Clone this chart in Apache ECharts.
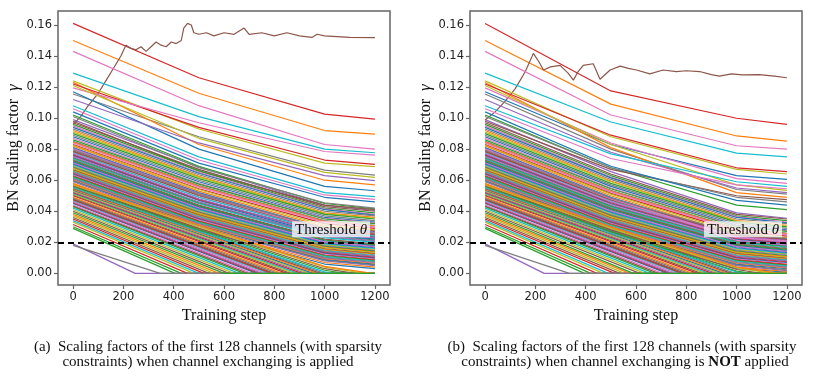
<!DOCTYPE html>
<html>
<head>
<meta charset="utf-8">
<script src="https://cdn.jsdelivr.net/npm/echarts@6.0.0/dist/echarts.min.js"></script>
<style>
  html, body { margin: 0; padding: 0; background: #fff; }
  #main { width: 830px; height: 378px; }
</style>
</head>
<body>
<div id="main"></div>
<script>
// tick labels
const xTicks = [0, 200, 400, 600, 800, 1000, 1200]
const yTicks = [0, 0.02, 0.04, 0.06, 0.08, 0.10, 0.12, 0.14, 0.16]
const threshold = 0.02

// one row per channel (series index order):
// [gamma at step 0, at 500, at 1000, at 1200, step where it reaches 0]
// row 5 is the brown channel, given separately with more points
const channelsA = [
  [.057, .028, .006, .003, null], [.150, .116, .092, .0897, null], [.029, null, 0, 0, 405], [.161, .126, .1026, .0994, null],
  [.099, .0685, .044, .0405, null], null, [.143, .108, .083, .080, null], [.1155, .088, .0665, .0633, null],
  [.124, .093, .071, .0687, null], [.129, .101, .080, .0777, null], [.117, .080, .056, .0532, null], [.123, .083, .060, .057, null],
  [.102, .069, .045, .0415, null], [.122, .094, .073, .0702, null], [.112, .084, .063, .0597, null], [.098, .066, .044, .041, null],
  [.1195, .097, .0785, .0762, null], [.101, .068, .0455, .042, null], [.121, .087, .065, .0618, null], [.108, .075, .052, .0494, null],
  [.104, .071, .049, .0461, null], [.058, .029, .007, .004, null], [.030, null, 0, 0, 430], [.0315, null, 0, 0, 455],
  [.059, .030, .008, .005, null], [.097, .067, .043, .040, null], [.106, .073, .0505, .0477, null], [.0595, .031, .0085, .0055, null],
  [.033, null, 0, 0, 480], [.034, null, 0, 0, 500], [.060, .031, .009, .006, null], [.0605, .0315, .0095, .0065, null],
  [.096, .066, .042, .039, null], [.035, null, 0, 0, 520], [.061, .032, .010, .007, null], [.036, null, 0, 0, 540],
  [.095, .065, .0415, .038, null], [.0615, .0325, .0105, .0075, null], [.037, null, 0, 0, 560], [.062, .033, .011, .008, null],
  [.094, .0645, .041, .0375, null], [.038, null, 0, 0, 580], [.0625, .0335, .0115, .0085, null], [.063, .034, .012, .009, null],
  [.019, null, 0, 0, 247], [.040, null, 0, 0, 620], [.0635, .0345, .0125, .0095, null], [.093, .0635, .040, .037, null],
  [.041, null, 0, 0, 640], [.042, null, 0, 0, 660], [.064, .035, .013, .010, null], [.092, .0625, .039, .036, null],
  [.043, null, 0, 0, 680], [.0645, .0355, .0135, .0105, null], [.065, .036, .014, .011, null], [.0435, null, 0, 0, 695],
  [.044, null, 0, 0, 710], [.0655, .0365, .0145, .0115, null], [.091, .062, .0385, .0355, null], [.066, .037, .015, .012, null],
  [.045, null, 0, 0, 730], [.0665, .0375, .0155, .0125, null], [.090, .061, .038, .035, null], [.0455, null, 0, 0, 740],
  [.046, null, 0, 0, 750], [.067, .038, .016, .013, null], [.0465, null, 0, 0, 765], [.089, .060, .037, .034, null],
  [.0675, .0385, .0165, .0135, null], [.047, null, 0, 0, 780], [.088, .059, .036, .033, null], [.068, .039, .017, .014, null],
  [.0685, .0395, .0175, .0145, null], [.0475, null, 0, 0, 790], [.069, .040, .018, .015, null], [.048, null, 0, 0, 800],
  [.087, .058, .0355, .0325, null], [.0485, null, 0, 0, 815], [.0695, .0405, .0185, .0155, null], [.070, .041, .019, .016, null],
  [.0705, .0415, .0195, .0165, null], [.049, null, 0, 0, 830], [.086, .0575, .035, .032, null], [.050, null, 0, 0, 850],
  [.071, .042, .020, .017, null], [.0505, null, 0, 0, 865], [.0715, .0425, .0205, .0175, null], [.085, .0565, .034, .031, null],
  [.051, null, 0, 0, 880], [.0515, null, 0, 0, 895], [.072, .043, .021, .018, null], [.0845, .056, .0335, .0305, null],
  [.0725, .0435, .0215, .0185, null], [.052, null, 0, 0, 910], [.0525, null, 0, 0, 925], [.073, .044, .022, .019, null],
  [.084, .0555, .033, .030, null], [.0735, .045, .0235, .0205, null], [.053, null, 0, 0, 940], [.074, .045, .023, .020, null],
  [.0535, null, 0, 0, 955], [.054, null, 0, 0, 970], [.0745, .0455, .0245, .0215, null], [.083, .0545, .032, .029, null],
  [.075, .046, .024, .021, null], [.0545, null, 0, 0, 985], [.0755, .0475, .0255, .0225, null], [.055, null, 0, 0, 1000],
  [.0825, .054, .031, .028, null], [.0555, .027, .001, 0, 1040], [.076, .047, .025, .022, null], [.082, .053, .030, .0275, null],
  [.056, .028, .002, 0, 1080], [.0765, .0475, .0265, .0235, null], [.077, .048, .026, .023, null], [.0565, .029, .003, 0, 1120],
  [.0775, .049, .0275, .0245, null], [.018, null, 0, 0, 346], [.057, .030, .004, 0, 1160], [.078, .049, .027, .024, null],
  [.081, .052, .029, .027, null], [.0575, .031, .0045, 0, 1190], [.039, null, 0, 0, 600], [.0785, .0505, .0285, .0255, null],
  [.0805, .0515, .0285, .0265, null], [.079, .050, .028, .025, null], [.080, .051, .028, .026, null], [.0795, .051, .029, .026, null]
]

const channelsB = [
  [.057, .026, .003, .0008, null], [.150, .109, .0885, .0852, null], [.029, null, 0, 0, 395], [.161, .1175, .0999, .096, null],
  [.099, .0655, .039, .0355, null], null, [.143, .102, .0822, .080, null], [.1155, .080, .054, .051, null],
  [.124, .088, .067, .064, null], [.129, .0975, .0775, .075, null], [.117, .083, .063, .0605, null], [.123, .081, .052, .049, null],
  [.102, .068, .044, .041, null], [.122, .089, .068, .0655, null], [.112, .078, .055, .052, null], [.098, .067, .050, .0475, null],
  [.1195, .084, .061, .058, null], [.101, .068, .049, .046, null], [.121, .083, .057, .0535, null], [.108, .077, .059, .056, null],
  [.104, .069, .047, .044, null], [.058, .027, .004, .0012, null], [.030, null, 0, 0, 420], [.0315, null, 0, 0, 445],
  [.059, .028, .005, .0018, null], [.097, .064, .038, .035, null], [.106, .074, .057, .0545, null], [.0595, .0285, .0055, .0022, null],
  [.033, null, 0, 0, 470], [.034, null, 0, 0, 490], [.060, .029, .006, .003, null], [.0605, .0295, .0065, .0035, null],
  [.096, .063, .037, .034, null], [.035, null, 0, 0, 515], [.061, .030, .007, .004, null], [.036, null, 0, 0, 535],
  [.095, .062, .0365, .033, null], [.0615, .0305, .0075, .0045, null], [.037, null, 0, 0, 555], [.062, .031, .008, .005, null],
  [.094, .0615, .036, .0325, null], [.038, null, 0, 0, 575], [.0625, .0315, .0085, .0055, null], [.063, .032, .009, .006, null],
  [.019, null, 0, 0, 235], [.040, null, 0, 0, 615], [.0635, .0325, .0095, .0065, null], [.093, .0605, .035, .032, null],
  [.041, null, 0, 0, 635], [.042, null, 0, 0, 655], [.064, .033, .010, .007, null], [.092, .0595, .034, .031, null],
  [.043, null, 0, 0, 675], [.0645, .0335, .0105, .0075, null], [.065, .034, .011, .008, null], [.0435, null, 0, 0, 690],
  [.044, null, 0, 0, 705], [.0655, .0345, .0115, .0085, null], [.091, .059, .0335, .0305, null], [.066, .035, .012, .009, null],
  [.045, null, 0, 0, 725], [.0665, .0355, .0125, .0095, null], [.090, .058, .033, .030, null], [.0455, null, 0, 0, 735],
  [.046, null, 0, 0, 745], [.067, .036, .013, .010, null], [.0465, null, 0, 0, 760], [.089, .057, .032, .029, null],
  [.0675, .0365, .0135, .0105, null], [.047, null, 0, 0, 775], [.088, .056, .031, .028, null], [.068, .037, .014, .011, null],
  [.0685, .0375, .0145, .0115, null], [.0475, null, 0, 0, 785], [.069, .038, .015, .012, null], [.048, null, 0, 0, 795],
  [.087, .055, .0305, .0275, null], [.0485, null, 0, 0, 810], [.0695, .0385, .0155, .0125, null], [.070, .039, .016, .013, null],
  [.0705, .0395, .0165, .0135, null], [.049, null, 0, 0, 825], [.086, .0545, .030, .027, null], [.050, null, 0, 0, 845],
  [.071, .040, .017, .014, null], [.0505, null, 0, 0, 860], [.0715, .0405, .0175, .0145, null], [.085, .0535, .029, .026, null],
  [.051, null, 0, 0, 875], [.0515, null, 0, 0, 890], [.072, .041, .018, .015, null], [.0845, .053, .0285, .0255, null],
  [.0725, .0415, .0185, .0155, null], [.052, null, 0, 0, 905], [.0525, null, 0, 0, 920], [.073, .042, .019, .016, null],
  [.084, .0525, .028, .025, null], [.0735, .0425, .0195, .0165, null], [.053, null, 0, 0, 935], [.074, .043, .020, .017, null],
  [.0535, null, 0, 0, 950], [.054, null, 0, 0, 965], [.0745, .0435, .0205, .0175, null], [.083, .0515, .027, .024, null],
  [.075, .044, .021, .018, null], [.0545, null, 0, 0, 980], [.0755, .0445, .0215, .0185, null], [.055, null, 0, 0, 995],
  [.0825, .051, .026, .023, null], [.0555, .026, .001, 0, 1030], [.076, .045, .022, .019, null], [.082, .050, .025, .0225, null],
  [.056, .027, .0015, 0, 1060], [.0765, .0455, .0225, .0195, null], [.077, .046, .023, .020, null], [.0565, .028, .0025, 0, 1100],
  [.0775, .0465, .0235, .0205, null], [.018, null, 0, 0, 335], [.057, .029, .0035, 0, 1140], [.078, .047, .024, .021, null],
  [.081, .049, .024, .022, null], [.0575, .030, .004, 0, 1170], [.039, null, 0, 0, 590], [.0785, .0475, .0245, .0215, null],
  [.0805, .0485, .0235, .0215, null], [.079, .048, .025, .022, null], [.080, .048, .023, .021, null], [.0795, .0485, .0255, .0225, null]
]

// the brown channel that grows instead of shrinking
const brownStepsA = [0, 30, 60, 100, 130, 160, 190, 210, 230, 250, 270, 290, 310, 330, 350, 370, 390, 410, 430, 440, 455, 470, 480,
  500, 530, 560, 600, 640, 680, 700, 750, 800, 850, 900, 950, 970, 1000, 1100, 1200]
const brownA = [.096, .101, .108, .116, .124, .132, .140, .147, .145, .144, .146, .143, .146, .149, .147, .146, .149, .148, .150, .158, .161, .160, .155,
  .154, .155, .153, .155, .154, .158, .154, .155, .153, .155, .153, .152, .154, .153, .152, .1518]
const brownStepsB = [0, 40, 80, 120, 160, 192, 215, 232, 260, 298, 330, 351, 370, 390, 430, 457, 497, 537, 570, 602, 655, 708, 760,
  800, 853, 900, 932, 980, 1024, 1090, 1150, 1200]
const brownB = [.0988, .104, .111, .119, .130, .1417, .136, .131, .133, .134, .129, .1245, .130, .134, .135, .125, .131, .1335, .132, .131, .1285, .131, .130,
  .1305, .130, .128, .127, .1285, .1278, .128, .127, .126]

const tab10 = ['#1f77b4', '#ff7f0e', '#2ca02c', '#d62728', '#9467bd', '#8c564b', '#e377c2', '#7f7f7f', '#bcbd22', '#17becf']
const serif = 'Liberation Serif'

function channelPoints (row) {
  const [s, m, k, e, z] = row
  const pts = [[0, s]]
  let last = s
  ;[[500, m], [1000, k], [1200, e]].forEach(([step, v]) => {
    if (v === null) return
    if (v === 0) {
      if (last > 0) { pts.push([z, 0]); last = 0 }
      return
    }
    pts.push([step, v])
    last = v
  })
  if (last === 0) pts.push([1200, 0])
  return pts
}

function panelSeries (rows, bSteps, bVals, gi) {
  const list = rows.map((row, i) => ({
    type: 'line',
    xAxisIndex: gi,
    yAxisIndex: gi,
    symbol: 'none',
    silent: true,
    animation: false,
    lineStyle: { width: 1.2, color: tab10[i % 10] },
    data: row ? channelPoints(row) : bSteps.map((st, j) => [st, bVals[j]])
  }))
  list[list.length - 1].markLine = {
    silent: true,
    symbol: 'none',
    animation: false,
    lineStyle: { color: '#000', type: [6, 4], width: 2 },
    label: {
      show: true,
      position: 'insideEndTop',
      distance: [20, 5],
      formatter: 'Threshold {i|θ}',
      fontFamily: serif,
      fontSize: 15,
      color: '#111',
      backgroundColor: 'rgba(255,255,255,0.75)',
      padding: [1, 3, 0, 3],
      rich: { i: { fontFamily: serif, fontSize: 15, fontStyle: 'italic', color: '#111' } }
    },
    data: [{ yAxis: threshold }]
  }
  return list
}

function xAx (gi) {
  return {
    type: 'value', gridIndex: gi, min: -60, max: 1260,
    name: 'Training step', nameLocation: 'middle', nameGap: 23,
    nameTextStyle: { fontFamily: serif, fontSize: 16, color: '#111' },
    axisLine: { show: false, onZero: false },
    axisTick: { show: true, length: 4, customValues: xTicks, lineStyle: { color: '#666', width: 1.2 } },
    axisLabel: {
      customValues: xTicks, formatter: v => String(v),
      fontFamily: 'DejaVu Sans', fontSize: 11.5, color: '#222', margin: 6
    },
    splitLine: { show: false }
  }
}

function yAx (gi) {
  return {
    type: 'value', gridIndex: gi, min: -0.0075, max: 0.169,
    name: 'BN scaling factor  {g|γ}', nameLocation: 'middle', nameGap: 35, nameRotate: 90,
    nameTextStyle: {
      fontFamily: serif, fontSize: 16, color: '#111',
      rich: { g: { fontFamily: serif, fontSize: 17, fontStyle: 'italic', color: '#111' } }
    },
    axisLine: { show: false, onZero: false },
    axisTick: { show: true, length: 4, customValues: yTicks, lineStyle: { color: '#666', width: 1.2 } },
    axisLabel: {
      customValues: yTicks, formatter: v => v.toFixed(2),
      fontFamily: 'DejaVu Sans', fontSize: 11.5, color: '#222', margin: 6
    },
    splitLine: { show: false }
  }
}

function caption (x, y, text, rich) {
  return {
    type: 'text', x: x, y: y, silent: true,
    style: {
      text: text, textAlign: 'center', textVerticalAlign: 'middle',
      fontFamily: serif, fontSize: 15, fill: '#111', rich: rich || {}
    }
  }
}

const boldRich = { b: { fontFamily: serif, fontSize: 15, fontWeight: 'bold', fill: '#111' } }

const option = {
  animation: false,
  grid: [
    { left: 58, top: 11, width: 332, height: 274, show: true, borderColor: '#666', borderWidth: 1.5 },
    { left: 470, top: 11, width: 332, height: 274, show: true, borderColor: '#666', borderWidth: 1.5 }
  ],
  xAxis: [xAx(0), xAx(1)],
  yAxis: [yAx(0), yAx(1)],
  series: panelSeries(channelsA, brownStepsA, brownA, 0).concat(panelSeries(channelsB, brownStepsB, brownB, 1)),
  graphic: [
    caption(208, 347.5, '(a)  Scaling factors of the first 128 channels (with sparsity'),
    caption(208, 362.5, 'constraints) when channel exchanging is applied'),
    caption(622, 347.5, '(b)  Scaling factors of the first 128 channels (with sparsity'),
    caption(625, 362.5, 'constraints) when channel exchanging is {b|NOT} applied', boldRich)
  ]
}

const chart = echarts.init(document.getElementById('main'))
chart.setOption(option)
</script>
</body>
</html>
